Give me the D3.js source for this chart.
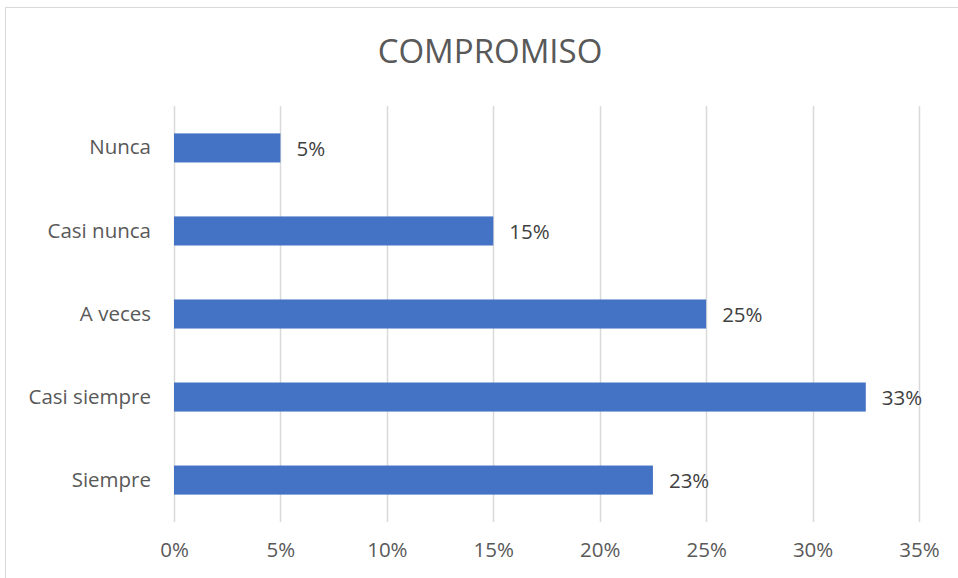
<!DOCTYPE html>
<html>
<head>
<meta charset="utf-8">
<script src="https://cdn.jsdelivr.net/npm/d3@7"></script>
<style>
body { margin: 0; background: #fff; }
text { font-family: "Open Sans", "Noto Sans", sans-serif; }
</style>
</head>
<body>
<div id="chart"></div>
<script>
// datos del grafico
const categorias = ["Nunca", "Casi nunca", "A veces", "Casi siempre", "Siempre"];
const valores = [5, 15, 25, 32.5, 22.5];
const etiquetas = ["5%", "15%", "25%", "33%", "23%"];
const ticks = [0, 5, 10, 15, 20, 25, 30, 35];

const ctx = {
    width: 958,
    height: 578,
    left: 174,
    right: 919,
    top: 106,
    bottom: 522
};

let svg = d3.select("#chart").append("svg")
    .attr("width", ctx.width)
    .attr("height", ctx.height)

// cadre
svg.append("rect")
    .attr("x", 5.5).attr("y", 7.5)
    .attr("width", 1000).attr("height", 700)
    .attr("fill", "none")
    .attr("stroke", "#d9d9d9")

svg.append("text")
    .text("COMPROMISO")
    .attr("x", 490)
    .attr("y", 63)
    .attr("text-anchor", "middle")
    .style("font-size", "33px")
    .style("fill", "#595959")

let x = d3.scaleLinear().domain([0, 35]).range([ctx.left, ctx.right])
let y = d3.scaleBand().domain(categorias).range([ctx.top, ctx.bottom]).paddingInner(0.65).paddingOuter(0.33)

// grille
svg.selectAll(".grid")
    .data(ticks)
    .enter().append("line")
    .attr("x1", d => Math.round(x(d)) + 0.5)
    .attr("x2", d => Math.round(x(d)) + 0.5)
    .attr("y1", ctx.top)
    .attr("y2", ctx.bottom)
    .attr("stroke", "#d9d9d9")
    .attr("stroke-width", 1.5)

let axeX = svg.append("g")
    .attr("transform", `translate(0,${ctx.bottom})`)
    .call(d3.axisBottom(x).tickValues(ticks).tickFormat(d => d + "%").tickSize(0).tickPadding(20))
axeX.select(".domain").remove()
axeX.selectAll("text").style("font-size", "20.5px").style("fill", "#595959").style("font-family", "'Open Sans', sans-serif")

let axeY = svg.append("g")
    .attr("transform", `translate(${ctx.left},0)`)
    .call(d3.axisLeft(y).tickSize(0).tickPadding(23))
axeY.select(".domain").remove()
axeY.selectAll("text").style("font-size", "20.5px").style("fill", "#595959").style("font-family", "'Open Sans', sans-serif")

svg.selectAll(".bar")
    .data(valores)
    .enter().append("rect")
    .attr("x", x(0))
    .attr("y", (d, i) => y(categorias[i]))
    .attr("width", d => x(d) - x(0))
    .attr("height", y.bandwidth())
    .attr("fill", "#4472c4")

svg.selectAll(".lbl")
    .data(valores)
    .enter().append("text")
    .text((d, i) => etiquetas[i])
    .attr("x", d => x(d) + 16)
    .attr("y", (d, i) => y(categorias[i]) + y.bandwidth() / 2)
    .attr("dy", "0.37em")
    .style("font-size", "20.5px")
    .style("fill", "#404040")
</script>
</body>
</html>
